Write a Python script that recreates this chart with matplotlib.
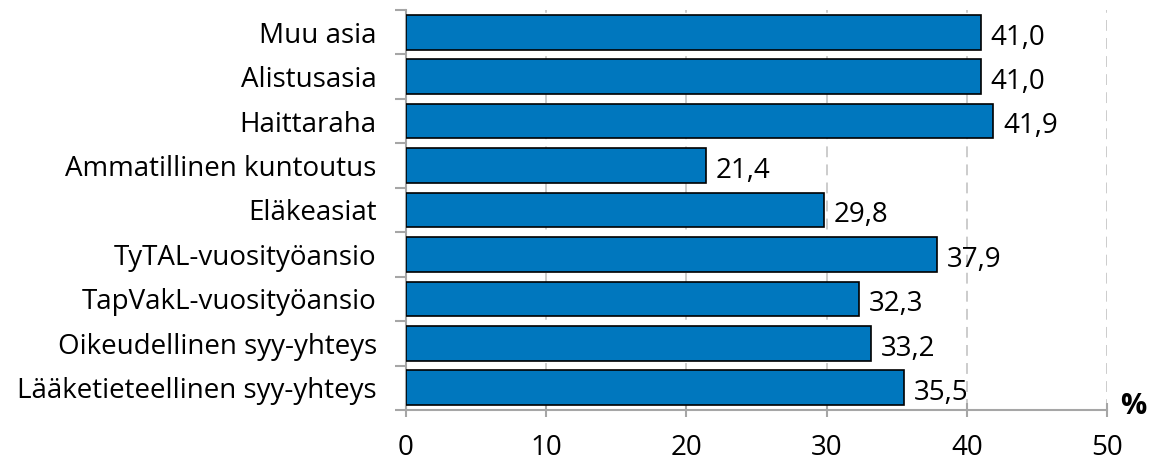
import numpy as np
import matplotlib.pyplot as plt

categories = ["Muu asia", "Alistusasia", "Haittaraha", "Ammatillinen kuntoutus",
              "Eläkeasiat", "TyTAL-vuosityöansio", "TapVakL-vuosityöansio",
              "Oikeudellinen syy-yhteys", "Lääketieteellinen syy-yhteys"]
values = [41.0, 41.0, 41.9, 21.4, 29.8, 37.9, 32.3, 33.2, 35.5]
xticks = [0, 10, 20, 30, 40, 50]

plt.rcParams['font.family'] = ['Open Sans', 'DejaVu Sans']

fig = plt.figure(figsize=(11.66, 4.68), dpi=100)
ax = fig.add_axes([406 / 1166, 58 / 468, 701 / 1166, 400 / 468])

n = len(categories)
ypos = np.arange(n)[::-1]
ax.barh(ypos, values, height=0.78, color='#0077BE', edgecolor='black', linewidth=1.2, zorder=3)

for y, v in zip(ypos, values):
    ax.text(v + 0.7, y - 0.12, f"{v:.1f}".replace('.', ','), va='center', ha='left',
            fontsize=20, color='black', zorder=4)

ax.set_xlim(0, 50)
ax.set_ylim(-0.5, n - 0.5)
ax.set_xticks(xticks)
ax.set_xticklabels([str(t) for t in xticks], fontsize=20)

ax.set_yticks(ypos)
ax.set_yticklabels(categories, fontsize=20)
ax.tick_params(axis='y', length=0, pad=21)
ax.set_yticks(np.arange(-0.5, n, 1.0), minor=True)
ax.tick_params(axis='y', which='minor', length=8, width=1.5, color='#A6A6A6', direction='out')
ax.tick_params(axis='x', length=10, width=1.5, color='#A6A6A6', direction='inout', pad=12)

ax.grid(axis='x', color='#C8C8C8', linestyle=(0, (6, 4)), linewidth=1.3, zorder=0)
for s in ['top', 'right']:
    ax.spines[s].set_visible(False)
for s in ['left', 'bottom']:
    ax.spines[s].set_color('#A6A6A6')
    ax.spines[s].set_linewidth(1.5)

fig.text(1133 / 1166, 1 - 407 / 468, "%", fontsize=21, fontweight='bold', ha='center', va='center')

fig.savefig("out.png", dpi=100)
